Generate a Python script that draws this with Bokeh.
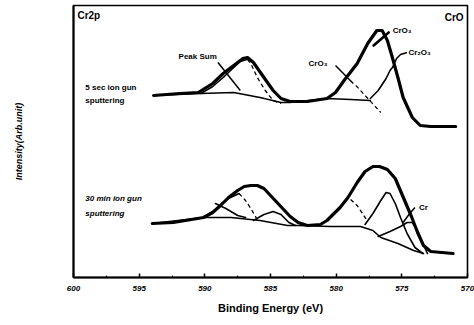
from bokeh.plotting import figure
from bokeh.models import Range1d, Label, FixedTicker
from bokeh.embed import file_html
from bokeh.resources import INLINE

# ---------------- data (binding energy eV, intensity arb.) ----------------
tick_vals = [600, 595, 590, 585, 580, 575, 570]
tick_labels = ["600", "595", "590", "585", "580", "575", "570"]
minor_vals = [597.5, 592.5, 587.5, 582.5, 577.5, 572.5]

# 5 sec ion gun sputtering
up_sum_E = [593.9, 591.9, 590.5, 589.4, 588.6, 587.8, 587.1, 586.75, 586.3, 585.5, 584.8,
            584.2, 583.5, 582.2, 580.7, 580.05, 579.4, 578.4, 577.6, 576.9, 576.5, 576.1,
            575.7, 575.3, 574.9, 574.2, 573.6, 572.8, 570.9]
up_sum_I = [182, 184, 185, 194, 204, 212, 219, 220, 215, 200, 187,
            179, 176, 176, 179, 185, 197, 214, 234, 247, 247, 237,
            219, 200, 180, 160, 152, 151, 151]
up_bg_E = [593.9, 590.3, 587.8, 585.8, 584.2, 583.5, 580.7, 578.9, 577.4]
up_bg_I = [182, 184, 185, 180, 175, 175, 179, 178, 177]
up_c1_solid_E = [590.3, 589.4, 588.6, 587.8, 587.3, 586.8]
up_c1_solid_I = [184, 191, 200, 210, 216, 218]
up_c1_dash_E = [586.75, 586.5, 586.0, 585.4, 584.8, 584.2]
up_c1_dash_I = [218, 214, 200, 187, 177, 174]
up_cr2o3_E = [577.4, 576.8, 576.2, 575.9, 575.6, 575.4]
up_cr2o3_I = [179, 187, 199, 207, 212, 206]

# 30 min ion gun sputtering
lo_sum_E = [594.0, 592.4, 590.1, 589.4, 588.8, 588.2, 587.5, 587.0, 586.5, 586.0, 585.5,
            585.0, 584.5, 584.0, 583.5, 582.9, 582.2, 581.2, 580.7, 579.7, 579.1, 578.4,
            577.8, 577.2, 576.7, 576.1, 575.5, 574.95, 574.3, 573.8, 573.35, 572.8, 571.1]
lo_sum_I = [54, 55, 60, 65, 72, 80, 87, 91, 92, 92, 89,
            82, 75, 68, 61, 55, 52, 53, 57, 70, 80, 95,
            106, 111, 111, 108, 99, 82, 62, 45, 32, 26, 24]
lo_bg_E = [594.0, 590.1, 588.0, 585.8, 583.7, 582.9, 580.4, 578.15, 577.2, 576.6, 575.3, 574.1, 573.35]
lo_bg_I = [54, 60, 60, 57, 52, 52, 51, 51, 47, 40, 34, 27, 24]
lo_c1_solid_E = [590.1, 589.4, 588.8, 588.2, 587.4]
lo_c1_solid_I = [60, 66, 73, 79, 84]
lo_c1_dash_E = [587.4, 586.9, 586.5, 586.1, 585.95]
lo_c1_dash_I = [84, 77, 69, 60, 56]
lo_c2_E = [589.2, 588.4, 587.5, 586.9]
lo_c2_I = [74, 69, 62, 60]
lo_c3_E = [586.3, 585.5, 584.8, 584.2, 583.6, 583.1]
lo_c3_I = [57, 63, 66, 63, 55, 52]
lo_cro3_dash_E = [578.9, 578.4, 578.0, 577.6]
lo_cro3_dash_I = [78, 72, 64, 56]
lo_cr2o3_E = [577.8, 577.2, 576.6, 576.2, 575.9, 575.5, 575.1, 574.6, 574.0, 573.4]
lo_cr2o3_I = [53, 64, 77, 85, 84, 74, 60, 44, 30, 24]
lo_cr_E = [576.8, 575.9, 575.1, 574.6, 574.2, 573.8, 573.4, 573.05]
lo_cr_I = [41, 46, 51, 55, 55, 47, 34, 24]

# ---------------- figure ----------------
FONT = "Liberation Sans"
p = figure(width=474, height=325, output_backend="svg", toolbar_location=None,
           x_range=Range1d(600, 570), y_range=Range1d(0, 272),
           min_border_left=73, min_border_right=7, min_border_top=5, min_border_bottom=48)
p.background_fill_color = "white"
p.border_fill_color = "white"
p.xgrid.visible = False
p.ygrid.visible = False
p.outline_line_color = "black"
p.outline_line_width = 1.6

xa = p.xaxis[0]
xa.ticker = FixedTicker(ticks=tick_vals, minor_ticks=minor_vals)
xa.major_label_overrides = {v: s for v, s in zip(tick_vals, tick_labels)}
xa.major_tick_in = 4
xa.major_tick_out = 0
xa.minor_tick_in = 2
xa.minor_tick_out = 0
xa.axis_line_width = 2
xa.axis_line_color = "black"
xa.major_tick_line_color = "black"
xa.minor_tick_line_color = "black"
xa.major_tick_line_width = 1.5
xa.major_label_text_font = FONT
xa.major_label_text_font_style = "bold italic"
xa.major_label_text_font_size = "8px"
xa.major_label_text_color = "black"
xa.major_label_standoff = 8
xa.axis_label = "Binding Energy (eV)"
xa.axis_label_text_font = FONT
xa.axis_label_text_font_style = "bold"
xa.axis_label_text_font_size = "11px"
xa.axis_label_text_color = "black"
xa.axis_label_standoff = 8

ya = p.yaxis[0]
ya.ticker = FixedTicker(ticks=[])
ya.axis_line_width = 2
ya.axis_line_color = "black"
ya.major_tick_line_color = None
ya.minor_tick_line_color = None
ya.axis_label = "Intensity(Arb.unit)"
ya.axis_label_text_font = FONT
ya.axis_label_text_font_style = "bold italic"
ya.axis_label_text_font_size = "9px"
ya.axis_label_text_color = "black"
ya.axis_label_standoff = 50

THICK = 3.2
THIN = 1.6

def thick(E, I):
    p.line(E, I, line_color="black", line_width=THICK, line_join="round", line_cap="round")

def thin(E, I):
    p.line(E, I, line_color="black", line_width=THIN, line_join="round", line_cap="round")

def dashed(E, I):
    p.line(E, I, line_color="black", line_width=1.3, line_dash="4 3")

# upper spectrum
thin(up_bg_E, up_bg_I)
thin(up_c1_solid_E, up_c1_solid_I)
dashed(up_c1_dash_E, up_c1_dash_I)
thin(up_cr2o3_E, up_cr2o3_I)
thick(up_sum_E, up_sum_I)

# lower spectrum
thin(lo_bg_E, lo_bg_I)
thin(lo_c1_solid_E, lo_c1_solid_I)
dashed(lo_c1_dash_E, lo_c1_dash_I)
thin(lo_c2_E, lo_c2_I)
thin(lo_c3_E, lo_c3_I)
dashed(lo_cro3_dash_E, lo_cro3_dash_I)
thin(lo_cr2o3_E, lo_cr2o3_I)
thin(lo_cr_E, lo_cr_I)
thick(lo_sum_E, lo_sum_I)

# leader lines (annotation positions)
p.line([589.0, 587.3], [215, 187], line_color="black", line_width=1.5)          # Peak Sum
p.line([580.05, 578.7], [212, 194], line_color="black", line_width=1.5)        # CrO3 (left)
p.line([578.5, 576.6], [192, 165], line_color="black", line_width=1.2, line_dash="4 3")
p.line([577.15, 576.0], [232, 245], line_color="black", line_width=2.6, line_cap="round")  # CrO3 top
p.line([575.7, 575.4, 575.1, 574.6], [210, 219, 223, 225], line_color="black", line_width=1.5)  # Cr2O3
p.line([574.9, 574.4, 574.0], [55, 64, 70], line_color="black", line_width=1.5)  # Cr

def lab(x, y, text, size="8px", align="left", style="bold"):
    p.add_layout(Label(x=x, y=y, text=text, text_font=FONT, text_font_size=size,
                       text_font_style=style, text_align=align, text_baseline="middle",
                       text_color="black"))

lab(599.7, 262, "Cr2p", size="10px")
lab(570.3, 260, "CrO", size="10px", align="right")
lab(592.0, 221, "Peak Sum")
lab(599.1, 190, "5 sec ion gun")
lab(599.1, 177, "sputtering")
lab(599.1, 79, "30 min ion gun", style="bold italic")
lab(599.1, 64, "sputtering", style="bold italic")
lab(582.1, 214, "CrO\u2083")
lab(575.7, 247, "CrO\u2083")
lab(574.5, 225, "Cr\u2082O\u2083")
lab(573.7, 70, "Cr")

open("out.html", "w").write(file_html(p, INLINE))
